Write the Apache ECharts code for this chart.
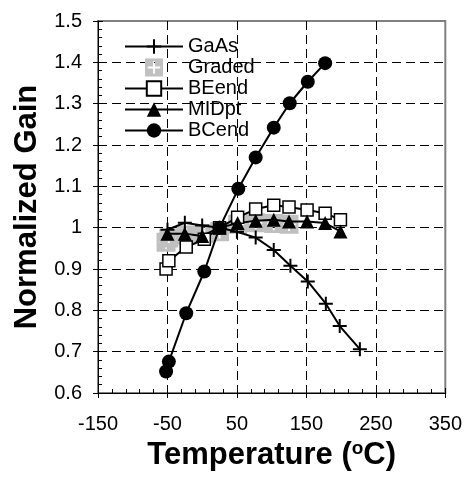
<!DOCTYPE html>
<html>
<head>
<meta charset="utf-8">
<script src="https://cdn.jsdelivr.net/npm/echarts@6/dist/echarts.min.js"></script>
<style>
html,body{margin:0;padding:0;background:#fff;}
#chart{width:465px;height:478px;}
</style>
</head>
<body>
<div id="chart"></div>
<script>
// ---- data ----
const xTicks = [-150, -50, 50, 150, 250, 350];
const yTicks = [0.6, 0.7, 0.8, 0.9, 1.0, 1.1, 1.2, 1.3, 1.4, 1.5];

const gaasX = [-50, -25, 0, 25, 50, 77, 103, 127, 152, 178, 198, 227];
const gaasY = [0.995, 1.012, 1.005, 1.0, 0.99, 0.976, 0.946, 0.908, 0.870, 0.816, 0.762, 0.706];

const gradedX = [-52, -48, -23, 3, 25, 51, 77, 103, 125];
const gradedY = [0.965, 0.975, 0.982, 0.985, 0.99, 1.008, 1.012, 1.01, 1.008];

const beendX = [-52, -48, -23, 3, 25, 51, 77, 103, 125, 151, 177, 199];
const beendY = [0.900, 0.920, 0.953, 0.972, 1.0, 1.025, 1.045, 1.054, 1.050, 1.043, 1.035, 1.019];

const midptX = [-50, -25, 0, 25, 51, 77, 103, 125, 151, 177, 199];
const midptY = [0.985, 0.985, 0.98, 1.0, 1.011, 1.017, 1.019, 1.015, 1.015, 1.011, 0.991];

const bcendX = [-52, -48, -23, 3, 25, 52, 77, 103, 126, 152, 177];
const bcendY = [0.652, 0.676, 0.793, 0.894, 1.0, 1.094, 1.170, 1.242, 1.301, 1.353, 1.398];

function pairs(xs, ys) { return xs.map((x, i) => [x, ys[i]]); }

const FONT = "'Liberation Sans', Arial, sans-serif";
const plusPath = 'path://M6,0L8,0L8,6L14,6L14,8L8,8L8,14L6,14L6,8L0,8L0,6L6,6Z';
const gradedPath = 'path://M0,0L20,0L20,20L0,20Z M9,3L9,9L3,9L3,11L9,11L9,17L11,17L11,11L17,11L17,9L11,9L11,3Z';

const chart = echarts.init(document.getElementById('chart'), null, {renderer: 'canvas'});

const dash = {type: [9, 5], color: '#000', width: 1};

const option = {
  animation: false,
  backgroundColor: '#fff',
  grid: {left: 98, right: 18, top: 21, bottom: 85, show: true, borderColor: '#808080', borderWidth: 2, backgroundColor: 'transparent'},
  legend: {
    orient: 'vertical', left: 119, top: 31,
    itemWidth: 58, itemHeight: 18, itemGap: 0,
    textStyle: {fontSize: 20, fontFamily: FONT, color: '#000', lineHeight: 21},
    data: ['GaAs', 'Graded', 'BEend', 'MIDpt', 'BCend']
  },
  xAxis: [{
    type: 'value', min: xTicks[0], max: xTicks[xTicks.length - 1], interval: 100,
    position: 'bottom',
    axisLine: {onZero: false, lineStyle: {color: '#000', width: 1}},
    axisTick: {show: true, inside: false, length: 5, lineStyle: {color: '#000'}},
    axisLabel: {fontSize: 20, fontFamily: FONT, color: '#000', margin: 21},
    splitLine: {show: true, showMinLine: false, showMaxLine: false, lineStyle: dash},
    name: 'Temperature ({sup|o}C)', nameLocation: 'middle', nameGap: 42,
    nameTextStyle: {fontSize: 31, fontWeight: 'bold', fontFamily: FONT, color: '#000', lineHeight: 34,
      rich: {sup: {fontSize: 19, fontWeight: 'bold', fontFamily: FONT, color: '#000', verticalAlign: 'top', lineHeight: 16}}}
  }, {
    type: 'value', min: xTicks[0], max: xTicks[xTicks.length - 1], interval: 100,
    position: 'bottom',
    axisLine: {show: false, onZero: false},
    axisTick: {show: true, inside: true, length: 5, lineStyle: {color: '#000'}},
    minorTick: {show: true, splitNumber: 5, length: 4, lineStyle: {color: '#000'}},
    axisLabel: {show: false},
    splitLine: {show: false}
  }],
  yAxis: [{
    type: 'value', min: yTicks[0], max: yTicks[yTicks.length - 1], interval: 0.1,
    position: 'left',
    axisLine: {show: true, onZero: false, lineStyle: {color: '#000', width: 1}},
    axisTick: {show: true, inside: false, length: 5, lineStyle: {color: '#000'}},
    axisLabel: {fontSize: 20, fontFamily: FONT, color: '#000', margin: 16},
    splitLine: {show: true, showMinLine: false, showMaxLine: false, lineStyle: dash},
    name: 'Normalized Gain', nameLocation: 'middle', nameGap: 54, nameRotate: 90,
    nameTextStyle: {fontSize: 31, fontWeight: 'bold', fontFamily: FONT, color: '#000'}
  }, {
    type: 'value', min: yTicks[0], max: yTicks[yTicks.length - 1], interval: 0.1,
    position: 'left',
    axisLine: {show: false, onZero: false},
    axisTick: {show: true, inside: true, length: 5, lineStyle: {color: '#000'}},
    minorTick: {show: true, splitNumber: 5, length: 4, lineStyle: {color: '#000'}},
    axisLabel: {show: false},
    splitLine: {show: false}
  }],
  series: [
    {
      name: 'GaAs', type: 'line', data: pairs(gaasX, gaasY),
      symbol: plusPath, symbolSize: 14,
      itemStyle: {color: '#000'},
      lineStyle: {color: '#000', width: 2}
    },
    {
      name: 'Graded', type: 'scatter', data: pairs(gradedX, gradedY),
      symbol: gradedPath, symbolSize: 19, symbolKeepAspect: true,
      itemStyle: {color: '#c0c0c0', opacity: 1}
    },
    {
      name: 'BEend', type: 'line', data: pairs(beendX, beendY),
      symbol: 'rect', symbolSize: 12,
      itemStyle: {color: '#fff', borderColor: '#000', borderWidth: 1.5},
      lineStyle: {color: '#000', width: 2}
    },
    {
      name: 'MIDpt', type: 'line', data: pairs(midptX, midptY),
      symbol: 'triangle', symbolSize: 14,
      itemStyle: {color: '#000'},
      lineStyle: {color: '#000', width: 2}
    },
    {
      name: 'BCend', type: 'line', data: pairs(bcendX, bcendY),
      symbol: 'circle', symbolSize: 14,
      itemStyle: {color: '#000'},
      lineStyle: {color: '#000', width: 2}
    }
  ]
};
chart.setOption(option);
</script>
</body>
</html>
